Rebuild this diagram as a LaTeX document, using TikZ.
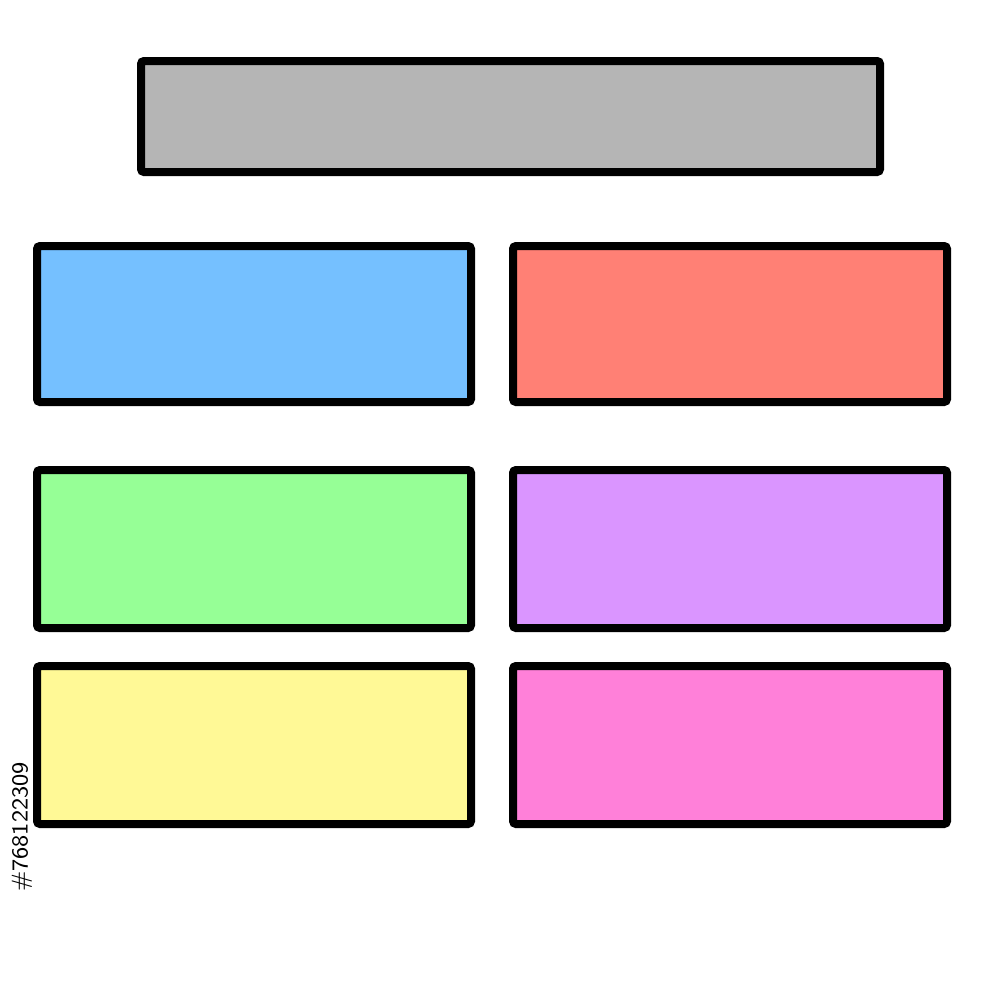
\documentclass[tikz,border=0pt]{standalone}
\begin{document}
\begin{tikzpicture}[x=0.01cm,y=-0.01cm,
  box/.style={draw=black,line width=8*0.01cm,rounded corners=3*0.01cm}]
\definecolor{cgray}{HTML}{B5B5B5}
\definecolor{cblue}{HTML}{75C0FF}
\definecolor{cred}{HTML}{FF8075}
\definecolor{cgreen}{HTML}{96FF96}
\definecolor{cpurple}{HTML}{DA95FF}
\definecolor{cyellow}{HTML}{FFF996}
\definecolor{cpink}{HTML}{FF80D9}
\useasboundingbox[fill=white] (0,0) rectangle (1000,1000);
\path[box,fill=cgray] (141,61) rectangle (880,172);
\path[box,fill=cblue] (37,246) rectangle (471,402);
\path[box,fill=cred] (513,246) rectangle (947,402);
\path[box,fill=cgreen] (37,470) rectangle (471,628);
\path[box,fill=cpurple] (513,470) rectangle (947,628);
\path[box,fill=cyellow] (37,666) rectangle (471,824);
\path[box,fill=cpink] (513,666) rectangle (947,824);
\node[rotate=90,anchor=center,font=\sffamily\fontsize{6.5}{7}\selectfont,text=black] (wm) at (22,827) {\#768122309};
\end{tikzpicture}
\end{document}
